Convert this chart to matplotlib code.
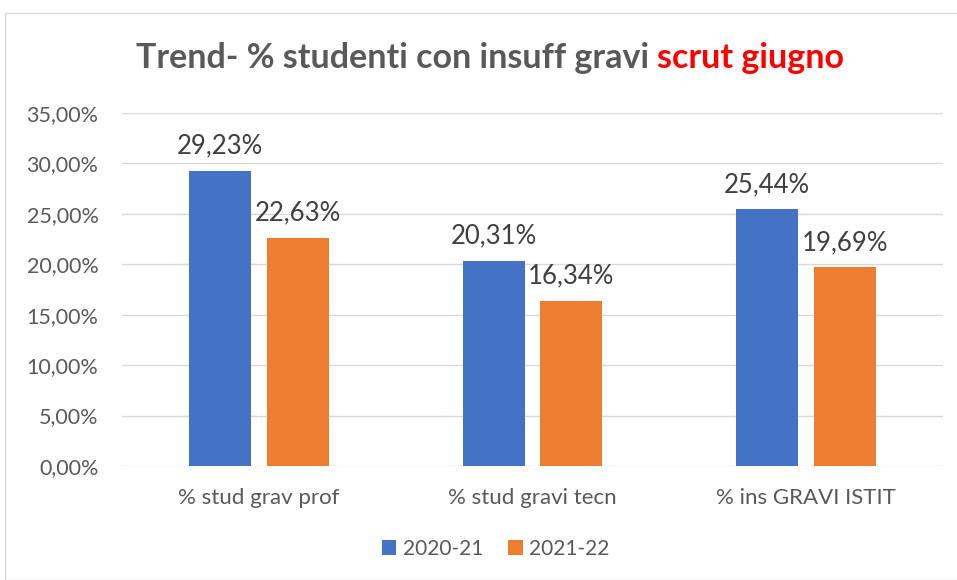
import numpy as np
import matplotlib.pyplot as plt
from matplotlib.patches import Rectangle

categories = ['% stud grav prof', '% stud gravi tecn', '% ins GRAVI ISTIT']
series_names = ['2020-21', '2021-22']
val_2021 = [29.23, 20.31, 25.44]
val_2122 = [22.63, 16.34, 19.69]
colors = ['#4472c4', '#ed7d31']

plt.rcParams['font.family'] = ['Lato', 'DejaVu Sans']

fig = plt.figure(figsize=(9.57, 5.8), dpi=100)
fig.patches.append(Rectangle((5 / 957, 0), 1, 567 / 580, transform=fig.transFigure,
                             fill=False, edgecolor='#d9d9d9', linewidth=1))
ax = fig.add_axes([122 / 957, 114 / 580, 821 / 957, 353 / 580])

x = np.arange(len(categories))
w = 0.226
gap = 0.058
off = (w + gap) / 2
b1 = ax.bar(x - off, val_2021, w, color=colors[0], label=series_names[0], zorder=3)
b2 = ax.bar(x + off, val_2122, w, color=colors[1], label=series_names[1], zorder=3)

for bars, vals in [(b1, val_2021), (b2, val_2122)]:
    for r, v in zip(bars, vals):
        ax.annotate(f'{v:.2f}%'.replace('.', ','), (r.get_x() + r.get_width() / 2, v),
                    xytext=(0, 9), textcoords='offset points', ha='center', va='bottom',
                    fontsize=18.5, color='#404040')

ax.set_xlim(-0.5, 2.5)
ax.set_ylim(0, 35)
yt = np.arange(0, 36, 5)
ax.set_yticks(yt)
ax.set_yticklabels([f'{t:.2f}%'.replace('.', ',') for t in yt], fontsize=15.5, color='#595959')
ax.set_xticks(x)
ax.set_xticklabels(categories, fontsize=16, color='#595959')
ax.tick_params(length=0)
ax.tick_params(axis='y', pad=17)
ax.tick_params(axis='x', pad=16)
ax.grid(axis='y', color='#d9d9d9', linewidth=1, zorder=0)
for s in ax.spines.values():
    s.set_visible(False)

ax.legend(loc='center', bbox_to_anchor=(0.455, -0.235), ncol=2, frameon=False,
          fontsize=15, handlelength=0.7, handleheight=0.7, handletextpad=0.3,
          columnspacing=1.2, labelcolor='#595959')

# two-colour title
t1 = fig.text(0, 1 - 58 / 580, 'Trend- % studenti con insuff gravi ', fontsize=24.5,
              fontweight='bold', color='#595959', va='center', ha='left')
t2 = fig.text(0, 1 - 58 / 580, 'scrut giugno', fontsize=24.5,
              fontweight='bold', color='#ff0000', va='center', ha='left')
fig.canvas.draw()
r = fig.canvas.get_renderer()
w1 = t1.get_window_extent(r).width
w2 = t2.get_window_extent(r).width
start = 490 - (w1 + w2) / 2
t1.set_x(start / 957)
t2.set_x((start + w1) / 957)

fig.savefig('out.png', dpi=100)
